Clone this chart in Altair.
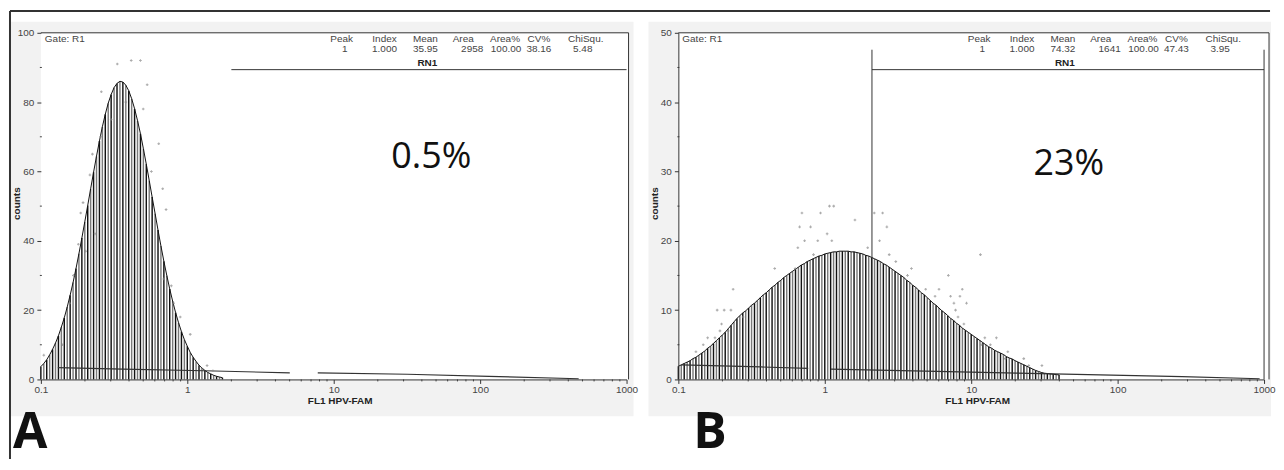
import altair as alt
import pandas as pd

# ---------------- data ----------------
# fitted histogram, panel A : log10(FL1) positions and counts
A_LOG = [-1.00, -0.98, -0.96, -0.94, -0.92, -0.90, -0.88, -0.86, -0.84, -0.82,
         -0.80, -0.78, -0.76, -0.74, -0.72, -0.70, -0.68, -0.66, -0.64, -0.62,
         -0.60, -0.58, -0.56, -0.54, -0.52, -0.50, -0.48, -0.46, -0.44, -0.42,
         -0.40, -0.38, -0.36, -0.34, -0.32, -0.30, -0.28, -0.26, -0.24, -0.22,
         -0.20, -0.18, -0.16, -0.14, -0.12, -0.10, -0.08, -0.06, -0.04, -0.02,
         0.00, 0.02, 0.04, 0.06, 0.08, 0.10, 0.12, 0.14, 0.16, 0.18,
         0.20, 0.22, 0.24]
A_CNT = [3.7, 4.6, 5.7, 7.1, 8.7, 10.5, 12.6, 15.1, 17.8, 20.9,
         24.3, 28.0, 32.0, 36.3, 40.8, 45.5, 50.2, 55.0, 59.8, 64.4,
         68.8, 72.9, 76.5, 79.7, 82.2, 84.2, 85.4, 86.0, 85.8, 84.9,
         83.3, 81.0, 78.1, 74.7, 70.9, 66.6, 62.1, 57.4, 52.6, 47.9,
         43.1, 38.5, 34.1, 30.0, 26.1, 22.6, 19.3, 16.4, 13.8, 11.5,
         9.6, 7.8, 6.4, 5.2, 4.1, 3.3, 2.6, 2.0, 1.6, 1.2,
         0.9, 0.7, 0.5]

# fitted histogram, panel B
B_LOG = [-1.00, -0.98, -0.96, -0.94, -0.92, -0.90, -0.88, -0.86, -0.84, -0.82,
         -0.80, -0.78, -0.76, -0.74, -0.72, -0.70, -0.68, -0.66, -0.64, -0.62,
         -0.60, -0.58, -0.56, -0.54, -0.52, -0.50, -0.48, -0.46, -0.44, -0.42,
         -0.40, -0.38, -0.36, -0.34, -0.32, -0.30, -0.28, -0.26, -0.24, -0.22,
         -0.20, -0.18, -0.16, -0.14, -0.12, -0.10, -0.08, -0.06, -0.04, -0.02,
         0.00, 0.02, 0.04, 0.06, 0.08, 0.10, 0.12, 0.14, 0.16, 0.18,
         0.20, 0.22, 0.24, 0.26, 0.28, 0.30, 0.32, 0.34, 0.36, 0.38,
         0.40, 0.42, 0.44, 0.46, 0.48, 0.50, 0.52, 0.54, 0.56, 0.58,
         0.60, 0.62, 0.64, 0.66, 0.68, 0.70, 0.72, 0.74, 0.76, 0.78,
         0.80, 0.82, 0.84, 0.86, 0.88, 0.90, 0.92, 0.94, 0.96, 0.98,
         1.00, 1.02, 1.04, 1.06, 1.08, 1.10, 1.12, 1.14, 1.16, 1.18,
         1.20, 1.22, 1.24, 1.26, 1.28, 1.30, 1.32, 1.34, 1.36, 1.38,
         1.40, 1.42, 1.44, 1.46, 1.48, 1.50, 1.52, 1.54, 1.56, 1.58,
         1.60]
B_CNT = [1.9, 2.1, 2.3, 2.5, 2.7, 3.0, 3.2, 3.5, 3.8, 4.1,
         4.5, 4.8, 5.2, 5.6, 6.0, 6.4, 6.8, 7.3, 7.8, 8.3,
         8.8, 9.2, 9.6, 9.9, 10.3, 10.7, 11.0, 11.4, 11.8, 12.2,
         12.5, 12.9, 13.3, 13.6, 14.0, 14.3, 14.7, 15.0, 15.3, 15.6,
         15.9, 16.2, 16.5, 16.7, 17.0, 17.2, 17.4, 17.6, 17.8, 17.9,
         18.1, 18.2, 18.3, 18.4, 18.4, 18.5, 18.5, 18.5, 18.5, 18.4,
         18.4, 18.3, 18.2, 18.1, 17.9, 17.8, 17.6, 17.4, 17.2, 17.0,
         16.7, 16.5, 16.2, 15.9, 15.6, 15.3, 15.0, 14.7, 14.3, 14.0,
         13.6, 13.3, 12.9, 12.5, 12.2, 11.8, 11.4, 11.0, 10.7, 10.3,
         9.9, 9.6, 9.2, 8.8, 8.5, 8.1, 7.8, 7.4, 7.1, 6.8,
         6.5, 6.2, 5.9, 5.6, 5.3, 5.0, 4.7, 4.5, 4.2, 4.0,
         3.8, 3.6, 3.3, 3.1, 2.95, 2.7, 2.5, 2.3, 2.1, 1.9,
         1.7, 1.5, 1.3, 1.15, 1.0, 0.9, 0.85, 0.8, 0.75, 0.7,
         0.65]

# raw histogram points (scatter)
A_DOT_LOG = [-0.478, -0.383, -0.320, -0.274, -0.587, -0.301, -0.592, -0.195, -0.648, -0.665,
             -0.245, -0.168, -0.145, -0.712, -0.728, -0.630, -0.744, -0.694, -0.778, -0.161,
             -0.109, -0.803, -0.093, -0.048, 0.020, -0.852, -0.980, 0.100, 0.135, 0.175,
             -0.420, -0.520]
A_DOT_CNT = [91, 92, 92, 85, 83, 78, 70, 68, 65, 59,
             60, 55, 49, 51, 48, 42, 39, 37, 30, 29,
             27, 22, 22, 18, 13, 10, 7, 3, 4, 2.5,
             80, 75]
B_DOT_LOG = [0.032, 0.061, -0.156, -0.029, 0.338, 0.395, -0.172, -0.097, 0.424, 0.016,
             0.206, -0.138, -0.048, 0.048, 0.374, -0.184, 0.293, -0.077, 0.440, 0.485,
             -0.342, -0.202, 0.592, 0.565, 0.844, -0.626, 0.689, 0.780, 0.753, 0.859,
             -0.735, -0.687, -0.641, -0.558, -0.705, -0.716, -0.660, -0.750, 1.063, 0.939,
             0.923, 0.882, 0.968, 0.893, 0.910, 0.950, 1.093, 1.172, 1.069, 1.131,
             1.250, 1.233, 1.359, 1.393, 1.483, -0.880, -0.830, -0.800]
B_DOT_CNT = [25, 25, 24, 24, 24, 24, 22, 22, 22, 21,
             23, 20, 20, 20, 20, 19, 19, 18, 18, 17,
             16, 16, 16, 15, 15, 13, 13, 13, 12, 12,
             10, 10, 10, 9, 8, 7, 7, 6, 18, 13,
             12, 11, 11, 10, 9, 8, 6, 6, 5, 5,
             4, 3, 3, 2, 2, 4, 5, 6]

# background (debris) line segments
A_BG_SEG = [1, 1, 1, 1, 2, 2, 2, 2]
A_BG_LOG = [-0.884, -0.44, 0.116, 0.70, 0.891, 1.503, 2.061, 2.673]
A_BG_CNT = [3.4, 3.0, 2.5, 1.9, 1.9, 1.5, 0.9, 0.2]
B_BG_SEG = [1, 1, 1, 2, 2, 2, 2, 2, 2]
B_BG_LOG = [-0.98, -0.435, -0.113, 0.041, 0.684, 1.313, 1.80, 2.44, 2.97]
B_BG_CNT = [2.1, 1.8, 1.6, 1.5, 1.2, 0.9, 0.7, 0.4, 0.1]

# statistics table
HEADER = ["Peak", "Index", "Mean", "Area", "Area%", "CV%", "ChiSqu."]
A_VALUES = ["1", "1.000", "35.95", "2958", "100.00", "38.16", "5.48"]
B_VALUES = ["1", "1.000", "74.32", "1641", "100.00", "47.43", "3.95"]
A_PCT = "0.5%"
B_PCT = "23%"
A_GATE_LO = 2.0
B_GATE_LO = 2.1
GATE_HI = 1000
REGION = "RN1"
GATE = "Gate: R1"

X_TICKS = [0.1, 1, 10, 100, 1000]
X_MINOR = [0.2, 0.3, 0.4, 0.5, 0.6, 0.7, 0.8, 0.9,
           2, 3, 4, 5, 6, 7, 8, 9,
           20, 30, 40, 50, 60, 70, 80, 90,
           200, 300, 400, 500, 600, 700, 800, 900]
A_YMAX = 100
A_Y_TICKS = [0, 20, 40, 60, 80, 100]
A_Y_MINOR = [10, 30, 50, 70, 90]
B_YMAX = 50
B_Y_TICKS = [0, 10, 20, 30, 40, 50]
B_Y_MINOR = [5, 15, 25, 35, 45]

# ---------------- layout / style ----------------
W, H = 588, 348
FONT = "Liberation Sans"
COL_LABEL_X = [302, 345, 386, 424, 466, 500, 547]
COL_VALUE_X = [305, 345, 386, 433, 467, 500, 544]


def make_panel(log_x, cnt, dot_x, dot_y, bg_seg, bg_x, bg_y, ymax, yticks, yminor,
               values, pct, pct_y, gate_lo, letter, letter_x, left_domain, frame_right,
               gate_verticals, gray_x0, gray_x1, outer_frame):
    one = pd.DataFrame({"k": [0]})
    xs = alt.Scale(type="log", domain=[0.1, 1000], nice=False)
    ys = alt.Scale(domain=[0, ymax], nice=False)
    xaxis = alt.Axis(values=X_TICKS, format="~g", title="FL1 HPV-FAM", grid=False,
                     labelFlush=False, labelOverlap=False, tickSize=4, labelPadding=1,
                     titleX=300, titleY=24, titleBaseline="alphabetic", zindex=1,
                     labelFont=FONT, labelFontSize=10, labelColor="#444",
                     titleFont=FONT, titleFontSize=10, titleFontWeight="bold", titleColor="#222",
                     domainColor="#333", tickColor="#333")
    yaxis = alt.Axis(values=yticks, title="counts", grid=False, domain=left_domain,
                     tickSize=4, labelPadding=3, titleX=-21, titleY=171, titleAngle=270,
                     titleAlign="center", titleBaseline="alphabetic", zindex=1,
                     labelFont=FONT, labelFontSize=10, labelColor="#444",
                     titleFont=FONT, titleFontSize=10, titleFontWeight="bold", titleColor="#222",
                     domainColor="#333", tickColor="#333")

    def X(f):
        return alt.X(f"{f}:Q", scale=xs, axis=xaxis)

    def Y(f):
        return alt.Y(f"{f}:Q", scale=ys, axis=yaxis)

    curve = pd.DataFrame({"fl1": [10 ** v for v in log_x], "cnt": cnt})
    curve["zero"] = 0.0
    curve["shade"] = [i % 2 for i in range(len(curve))]
    dots = pd.DataFrame({"fl1": [10 ** v for v in dot_x], "cnt": dot_y})
    bg = pd.DataFrame({"fl1": [10 ** v for v in bg_x], "cnt": bg_y, "seg": bg_seg})
    gate = pd.DataFrame({"lo": [gate_lo], "hi": [GATE_HI]})

    layers = []
    layers.append(alt.Chart(one).mark_rect(color="#f2f2f2").encode(
        x=alt.value(gray_x0), x2=alt.value(gray_x1), y=alt.value(-11), y2=alt.value(385)))
    layers.append(alt.Chart(one).mark_rect(color="white").encode(
        x=alt.value(0), x2=alt.value(frame_right), y=alt.value(0), y2=alt.value(H)))
    if outer_frame:
        layers.append(alt.Chart(one).mark_rule(color="#333", strokeWidth=2).encode(
            x=alt.value(-31), x2=alt.value(1234), y=alt.value(-22)))
        layers.append(alt.Chart(one).mark_rule(color="#333", strokeWidth=2).encode(
            x=alt.value(-31), y=alt.value(-22), y2=alt.value(428)))
    layers.append(alt.Chart(curve).mark_rule(strokeWidth=1.45).encode(
        x=X("fl1"), y=Y("cnt"), y2=alt.Y2("zero:Q"),
        color=alt.Color("shade:N", scale=alt.Scale(domain=[0, 1], range=["#111111", "#7a7a7a"]),
                        legend=None)))
    layers.append(alt.Chart(curve).mark_line(color="#111", strokeWidth=1).encode(
        x=X("fl1"), y=Y("cnt")))
    layers.append(alt.Chart(bg).mark_line(color="#333", strokeWidth=1.2).encode(
        x=X("fl1"), y=Y("cnt"), detail="seg:N"))
    layers.append(alt.Chart(dots).mark_point(shape="cross", filled=True, size=7, color="#888").encode(
        x=X("fl1"), y=Y("cnt")))
    layers.append(alt.Chart(pd.DataFrame({"fl1": X_MINOR})).mark_rule(color="#444").encode(
        x=X("fl1"), y=alt.value(H), y2=alt.value(H + 2)))
    layers.append(alt.Chart(pd.DataFrame({"cnt": yminor})).mark_rule(color="#444").encode(
        y=Y("cnt"), x=alt.value(-1), x2=alt.value(1)))
    # plot frame
    layers.append(alt.Chart(one).mark_rule(color="#333").encode(
        x=alt.value(0), x2=alt.value(frame_right), y=alt.value(0)))
    layers.append(alt.Chart(one).mark_rule(color="#333").encode(
        x=alt.value(frame_right), y=alt.value(0), y2=alt.value(H)))
    # RN1 region marker
    layers.append(alt.Chart(gate).mark_rule(color="#333").encode(
        x=X("lo"), x2="hi:Q", y=alt.value(37)))
    if gate_verticals:
        layers.append(alt.Chart(gate).mark_rule(color="#333").encode(
            x=X("lo"), y=alt.value(17), y2=alt.value(H)))
        layers.append(alt.Chart(gate).mark_rule(color="#333").encode(
            x=X("hi"), y=alt.value(17), y2=alt.value(H)))
    # texts
    txt = dict(font=FONT, fontSize=10, color="#444")
    layers.append(alt.Chart(one).mark_text(text=GATE, align="left", baseline="middle", **txt).encode(
        x=alt.value(4), y=alt.value(6)))
    for lab, xp in zip(HEADER, COL_LABEL_X):
        layers.append(alt.Chart(one).mark_text(text=lab, align="center", baseline="middle", **txt).encode(
            x=alt.value(xp), y=alt.value(6)))
    for val, xp in zip(values, COL_VALUE_X):
        layers.append(alt.Chart(one).mark_text(text=val, align="center", baseline="middle", **txt).encode(
            x=alt.value(xp), y=alt.value(16)))
    layers.append(alt.Chart(one).mark_text(text=REGION, align="center", baseline="middle", font=FONT,
                                           fontSize=10, fontWeight="bold", color="#222").encode(
        x=alt.value(388), y=alt.value(30)))
    layers.append(alt.Chart(one).mark_text(text=pct, align="center", baseline="middle", font="Open Sans",
                                           fontSize=36, color="#111").encode(
        x=alt.value(392), y=alt.value(pct_y)))
    layers.append(alt.Chart(one).mark_text(text=letter, align="left", baseline="alphabetic",
                                           font="Open Sans", fontSize=50, fontWeight="bold",
                                           color="#111").encode(
        x=alt.value(letter_x), y=alt.value(417)))
    return alt.layer(*layers).properties(width=W, height=H)


pa = make_panel(A_LOG, A_CNT, A_DOT_LOG, A_DOT_CNT, A_BG_SEG, A_BG_LOG, A_BG_CNT, A_YMAX,
                A_Y_TICKS, A_Y_MINOR, A_VALUES, A_PCT, 125, A_GATE_LO, "A", -28, False, 590,
                False, -32, 595, True)
pb = make_panel(B_LOG, B_CNT, B_DOT_LOG, B_DOT_CNT, B_BG_SEG, B_BG_LOG, B_BG_CNT, B_YMAX,
                B_Y_TICKS, B_Y_MINOR, B_VALUES, B_PCT, 132, B_GATE_LO, "B", 15, True, 593,
                True, -30, 595, False)

chart = alt.hconcat(pa, pb, spacing=52, bounds="flush").properties(
    padding={"left": 0, "top": 0, "right": 0, "bottom": 0},
    background="white",
).configure_view(stroke="transparent")

chart.save("out.html", embed_options={"renderer": "svg", "actions": False})
